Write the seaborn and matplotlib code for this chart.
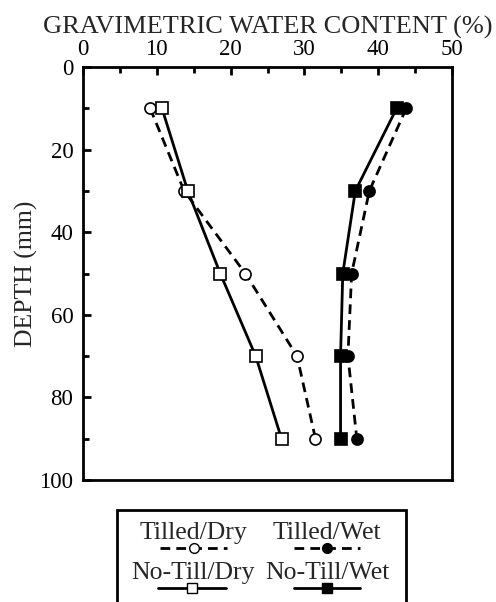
import matplotlib
matplotlib.use("Agg")
import matplotlib.pyplot as plt
from matplotlib.lines import Line2D
from matplotlib.patches import Rectangle
import seaborn as sns
import pandas as pd

depth = [10, 30, 50, 70, 90]
tilled_dry = [9.1, 13.7, 22.0, 29.0, 31.5]
notill_dry = [10.7, 14.2, 18.6, 23.4, 26.9]
tilled_wet = [43.8, 38.8, 36.4, 35.9, 37.1]
notill_wet = [42.5, 36.9, 35.2, 34.9, 34.9]
x_ticks = [0, 10, 20, 30, 40, 50]
y_ticks = [0, 20, 40, 60, 80, 100]
series_names = ["Tilled/Dry", "Tilled/Wet", "No-Till/Dry", "No-Till/Wet"]

sns.set_style("ticks")
plt.rcParams['font.family'] = ['Liberation Serif', 'DejaVu Serif']

fig = plt.figure(figsize=(4.96, 6.02), dpi=100)
ax = fig.add_axes([83/496, 1-480/602, (452-83)/496, (480-67)/602])

styles = {
    "Tilled/Dry": dict(vals=tilled_dry, marker="o", ls=(0, (3.5, 2.2)), mfc="white"),
    "Tilled/Wet": dict(vals=tilled_wet, marker="o", ls=(0, (3.5, 2.2)), mfc="black"),
    "No-Till/Dry": dict(vals=notill_dry, marker="s", ls="-", mfc="white"),
    "No-Till/Wet": dict(vals=notill_wet, marker="s", ls="-", mfc="black"),
}
for name in series_names:
    st = styles[name]
    df = pd.DataFrame({"wc": st["vals"], "depth": depth})
    sns.lineplot(data=df, x="wc", y="depth", orient="y", estimator=None, ax=ax,
                 color="black", linewidth=2, linestyle=st["ls"], marker=st["marker"],
                 markersize=8, markerfacecolor=st["mfc"], markeredgecolor="black",
                 markeredgewidth=1.2)

ax.set_xlim(0, 50)
ax.set_ylim(100, 0)
ax.xaxis.tick_top()
ax.xaxis.set_label_position("top")
ax.set_xticks(x_ticks)
ax.set_xticks([5, 15, 25, 35, 45], minor=True)
ax.set_yticks(y_ticks)
ax.set_yticks([10, 30, 50, 70, 90], minor=True)
ax.tick_params(which="both", direction="in", labelsize=16.5, width=2, colors="black")
ax.tick_params(which="major", length=6)
ax.tick_params(which="minor", length=4)
ax.tick_params(axis="x", pad=5)
ax.tick_params(axis="y", pad=7)
for sp in ax.spines.values():
    sp.set_visible(True)
    sp.set_linewidth(2)
    sp.set_color("black")
ax.set_xlabel("GRAVIMETRIC WATER CONTENT (%)", fontsize=19, labelpad=4)
ax.set_ylabel("DEPTH (mm)", fontsize=18.5, labelpad=1)

# Custom legend box (labels above line samples)
fig.patches.append(Rectangle((117/496, 1-640/602), (406-117)/496, (640-510)/602,
                             transform=fig.transFigure, fill=False, edgecolor="black",
                             linewidth=2))
legend_pos = {
    "Tilled/Dry": (193, 533, 548, 160, 227),
    "Tilled/Wet": (327, 533, 548, 294, 360),
    "No-Till/Dry": (193, 573, 588, 158, 226),
    "No-Till/Wet": (327, 573, 588, 294, 360),
}
for name in series_names:
    cx, ty, ly, x0, x1 = legend_pos[name]
    st = styles[name]
    fig.text(cx/496, 1-ty/602, name, ha="center", va="center", fontsize=18.5)
    fig.add_artist(Line2D([x0/496, x1/496], [1-ly/602, 1-ly/602], transform=fig.transFigure,
                          color="black", linewidth=2, linestyle=st["ls"]))
    fig.add_artist(Line2D([(x0+x1)/2/496], [1-ly/602], transform=fig.transFigure,
                          marker=st["marker"], markersize=7, markerfacecolor=st["mfc"],
                          markeredgecolor="black", linestyle="none"))

fig.savefig("out.png", dpi=100)
